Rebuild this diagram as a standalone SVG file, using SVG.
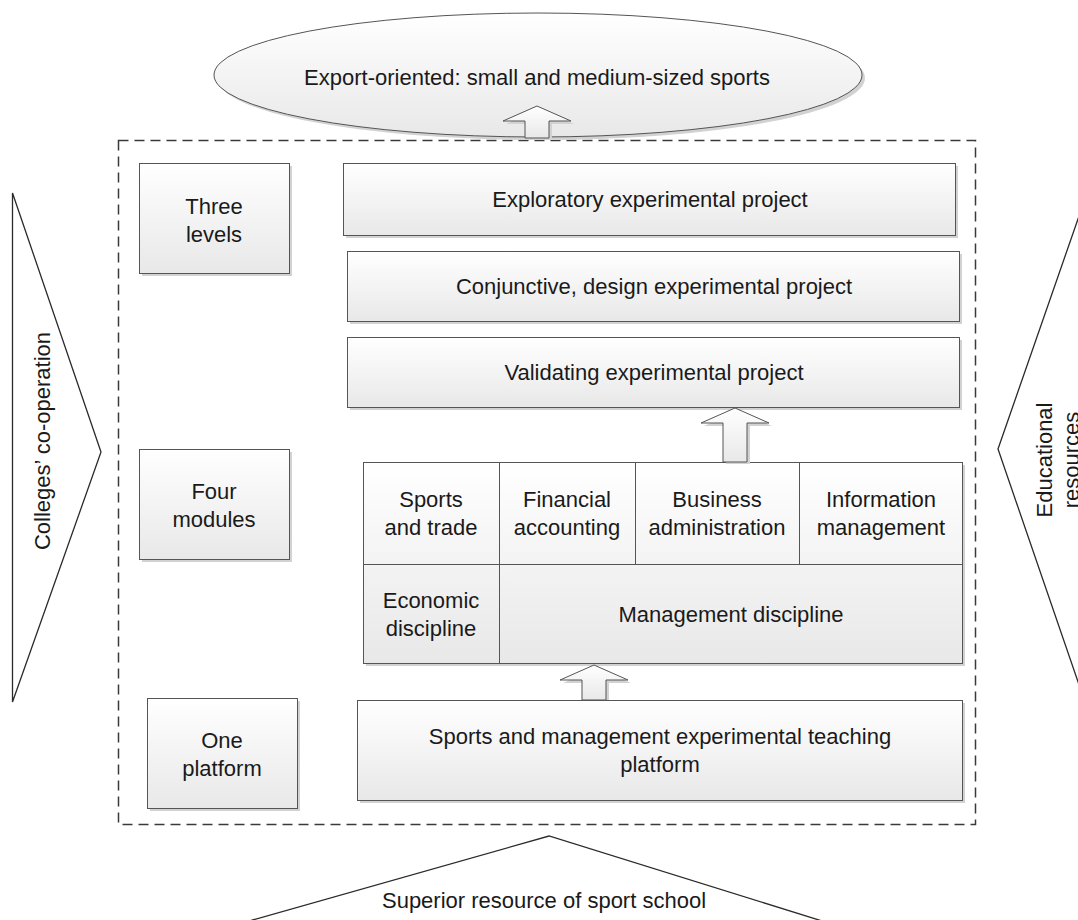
<svg xmlns="http://www.w3.org/2000/svg" width="1078" height="920" viewBox="0 0 1078 920">
<defs>
<linearGradient id="g" x1="0" y1="0" x2="0" y2="1"><stop offset="0" stop-color="#ffffff"/><stop offset="1" stop-color="#e8e8e8"/></linearGradient>
</defs>
<style>
.b{fill:url(#g);stroke:#555;stroke-width:1}
.s{fill:#d2d2d2}
.t{font-family:"Liberation Sans",Arial,sans-serif;font-size:22px;fill:#1a1a1a;text-anchor:middle}
.tri{fill:none;stroke:#2a2a2a;stroke-width:1.3;stroke-linejoin:miter}
.dash{fill:none;stroke:#3a3a3a;stroke-width:1.5;stroke-dasharray:10 6}
.ln{stroke:#555;stroke-width:1;fill:none}
</style>
<rect width="1078" height="920" fill="#fff"/>

<g id="left-triangle">
<polygon class="tri" points="12.5,193 101,452 12.5,702"/>
<text class="t" transform="translate(50,441) rotate(-90)">Colleges’ co-operation</text>
</g>
<g id="right-triangle">
<polygon class="tri" points="1086,196 998,449 1086,705"/>
<text class="t" transform="translate(1052,460) rotate(-90)"><tspan x="0" y="0">Educational</tspan><tspan x="0" y="27">resources</tspan></text>
</g>
<g id="bottom-triangle">
<polyline class="tri" points="235,925 549,836 835,925"/>
<text class="t" x="544" y="908">Superior resource of sport school</text>
</g>

<g id="frame">
<rect class="dash" x="118.5" y="140.5" width="857" height="684"/>
</g>

<g id="export">
<ellipse class="s" cx="541" cy="78" rx="324" ry="62"/>
<ellipse class="b" cx="538" cy="75" rx="324" ry="62"/>
<text class="t" x="537" y="85">Export-oriented: small and medium-sized sports</text>
</g>

<g id="three-levels">
<rect class="s" x="142" y="166" width="150" height="110"/>
<rect class="b" x="139.5" y="163.5" width="150" height="110"/>
<text class="t" x="214" y="214">Three</text>
<text class="t" x="214" y="242">levels</text>
</g>
<g id="four-modules">
<rect class="s" x="142" y="452" width="150" height="110"/>
<rect class="b" x="139.5" y="449.5" width="150" height="110"/>
<text class="t" x="214" y="499">Four</text>
<text class="t" x="214" y="527">modules</text>
</g>
<g id="one-platform">
<rect class="s" x="150" y="701" width="150" height="110"/>
<rect class="b" x="147.5" y="698.5" width="150" height="110"/>
<text class="t" x="222" y="748">One</text>
<text class="t" x="222" y="776">platform</text>
</g>

<g id="exploratory">
<rect class="s" x="346" y="166" width="612" height="72"/>
<rect class="b" x="343.5" y="163.5" width="612" height="72"/>
<text class="t" x="650" y="207">Exploratory experimental project</text>
</g>
<g id="conjunctive">
<rect class="s" x="350" y="254" width="612" height="70"/>
<rect class="b" x="347.5" y="251.5" width="612" height="70"/>
<text class="t" x="654" y="294">Conjunctive, design experimental project</text>
</g>
<g id="validating">
<rect class="s" x="350" y="340" width="612" height="70"/>
<rect class="b" x="347.5" y="337.5" width="612" height="70"/>
<text class="t" x="654" y="380">Validating experimental project</text>
</g>

<g id="modules">
<rect class="s" x="366" y="465" width="599" height="201"/>
<rect class="b" x="363.5" y="462.5" width="599" height="201"/>
<path class="ln" d="M363.5,564.5H962.5M499.5,462.5V663.5M635.5,462.5V564.5M799.5,462.5V564.5"/>
<text class="t" x="431" y="507">Sports</text>
<text class="t" x="431" y="535">and trade</text>
<text class="t" x="567" y="507">Financial</text>
<text class="t" x="567" y="535">accounting</text>
<text class="t" x="717" y="507">Business</text>
<text class="t" x="717" y="535">administration</text>
<text class="t" x="881" y="507">Information</text>
<text class="t" x="881" y="535">management</text>
<text class="t" x="431" y="608">Economic</text>
<text class="t" x="431" y="636">discipline</text>
<text class="t" x="731" y="622">Management discipline</text>
</g>

<g id="platform">
<rect class="s" x="360" y="703" width="605" height="100"/>
<rect class="b" x="357.5" y="700.5" width="605" height="100"/>
<text class="t" x="660" y="744">Sports and management experimental teaching</text>
<text class="t" x="660" y="772">platform</text>
</g>

<g id="connectors">
<polygon class="s" points="528,140 528,124 506,124 540,109 574,124 552,124 552,140"/>
<polygon class="b" points="525,138 525,121 503,121 537,106 571,121 549,121 549,138"/>
<polygon class="s" points="726,464 726,426 704,426 738,411 772,426 750,426 750,464"/>
<polygon class="b" points="723,462 723,423 701,423 735,408 769,423 747,423 747,462"/>
<polygon class="s" points="585,700 585,683 563,683 597,668 631,683 609,683 609,700"/>
<polygon class="b" points="582,700 582,680 560,680 594,665 628,680 606,680 606,700"/>
</g>
</svg>
